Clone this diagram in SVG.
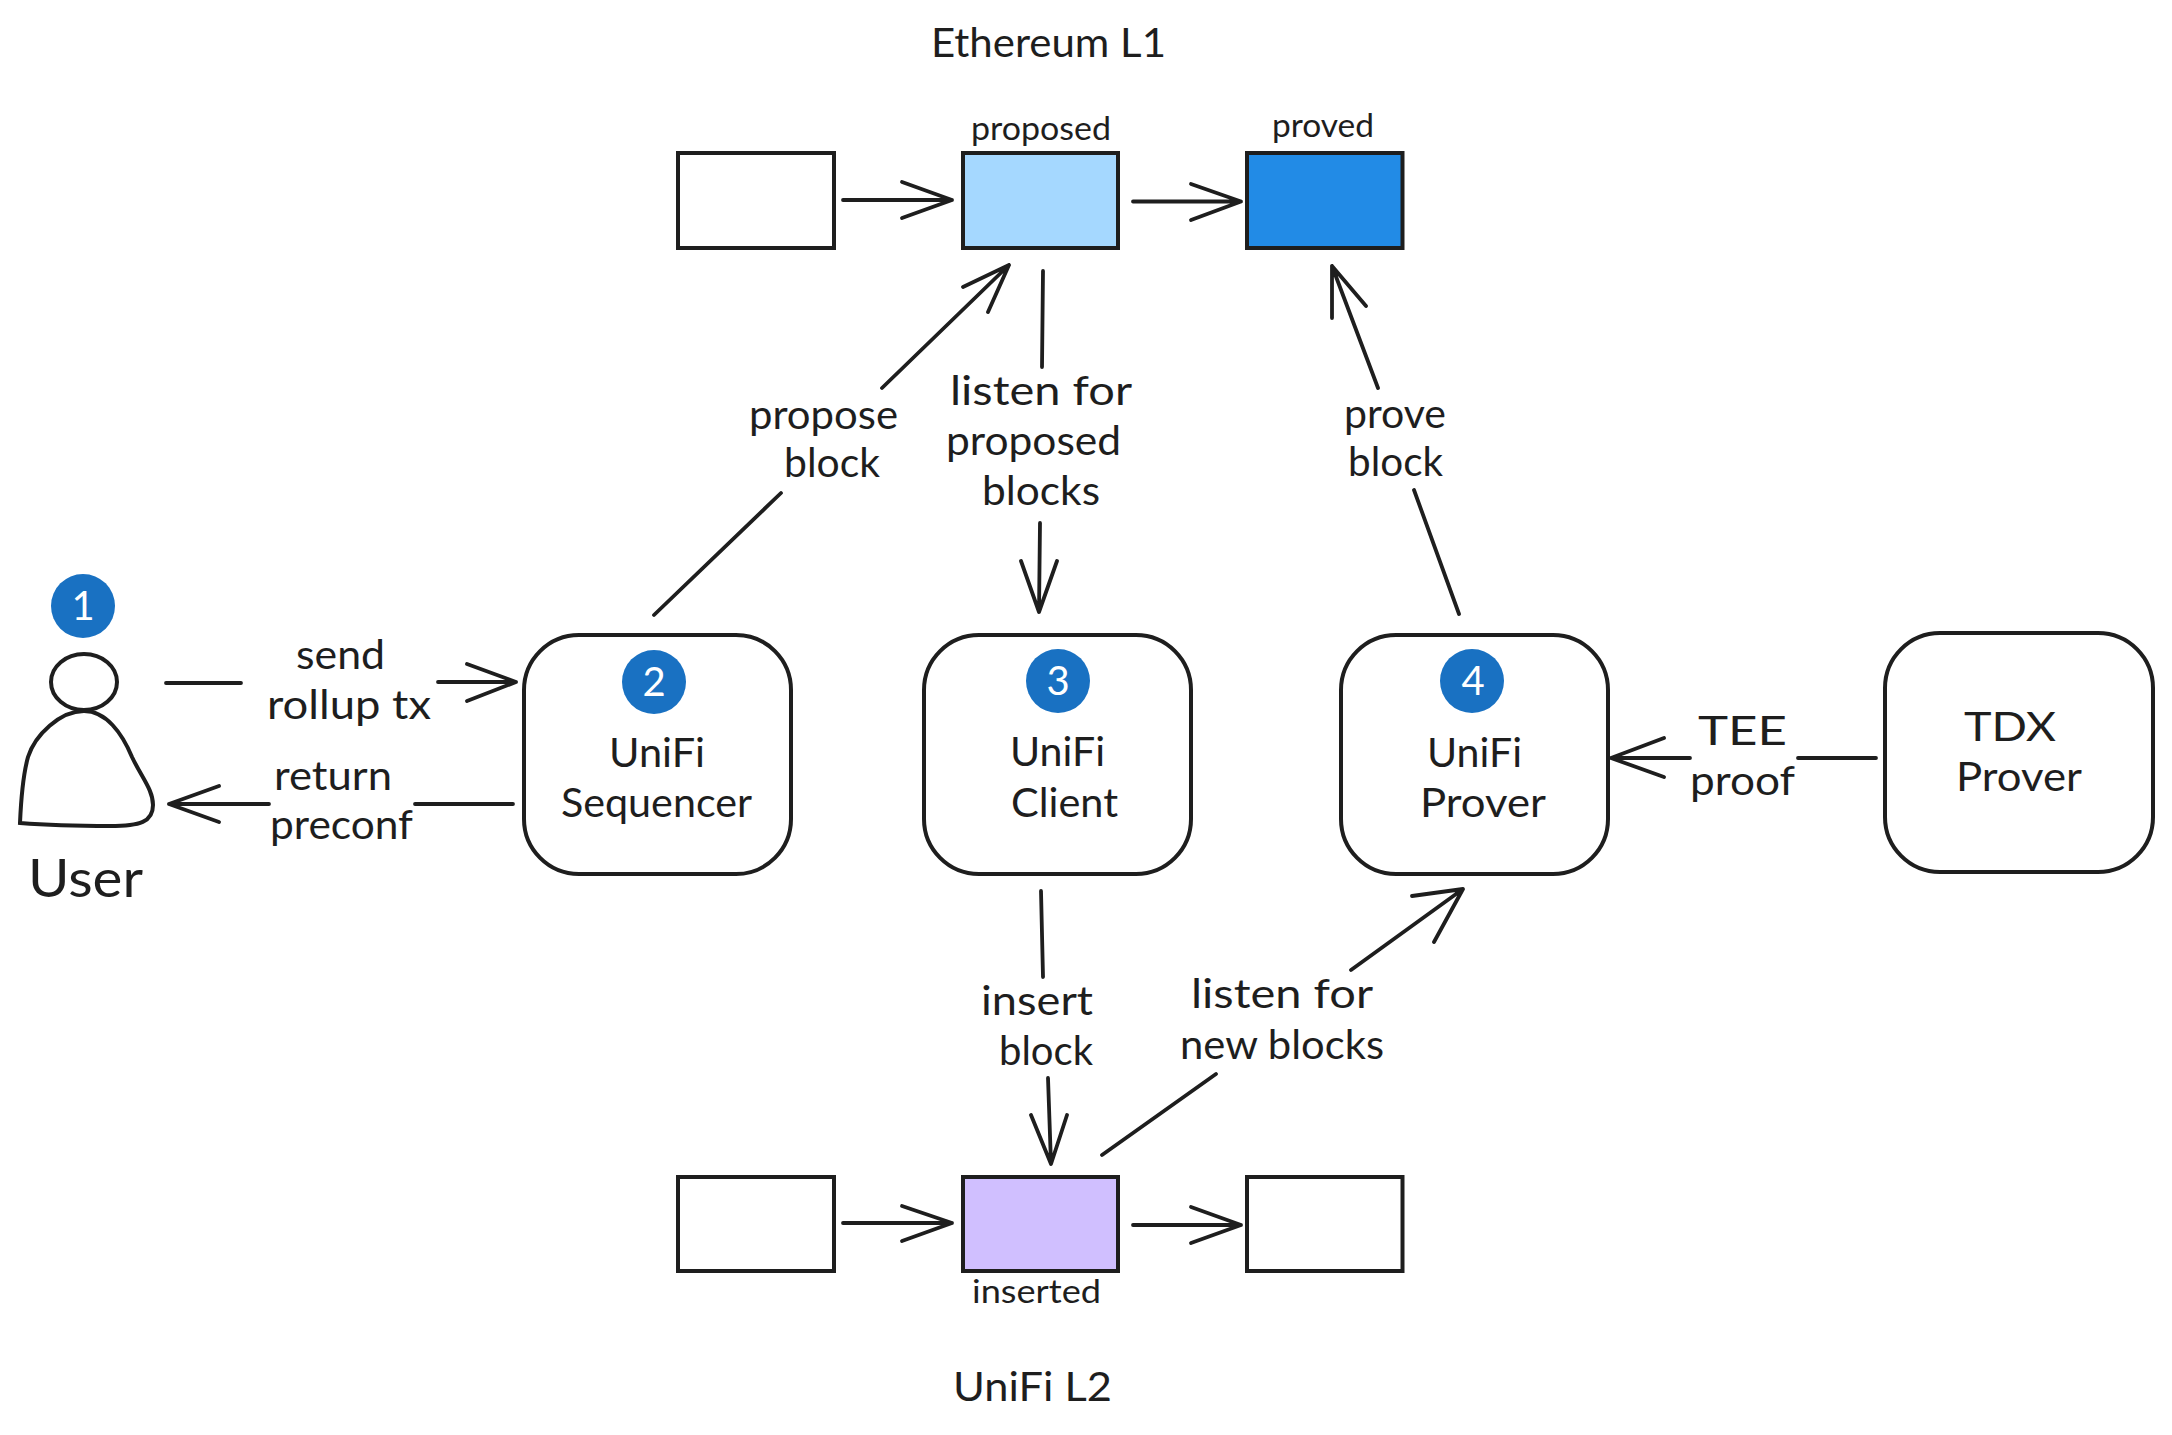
<svg xmlns="http://www.w3.org/2000/svg" width="2172" height="1435" viewBox="0 0 2172 1435">
<style>
text{font-family:"Lato","Noto Sans",sans-serif;fill:#1e1e1e;font-size:40px;text-anchor:start}
.sm{font-size:33px}
.d{font-size:40px;fill:#fff;text-anchor:middle}
.b{stroke:#1e1e1e;stroke-width:4;fill:#fff}
.r{stroke:#1e1e1e;stroke-width:4;fill:#fff}
.c{stroke:#1e1e1e;stroke-width:3.800;fill:none;stroke-linecap:round;stroke-linejoin:round}
.badge{fill:#1971c2}
</style>
<rect width="2172" height="1435" fill="#fff"/>
<g id="connectors" class="c">
<path d="M166 683H241M438 682L516 682M467 664L516 682L467 701"/>
<path d="M513 804H415M269 804H169M219 786L169 804L219 822"/>
<path d="M843 200H952M902 182L952 200L902 218"/>
<path d="M1133 201.500H1241M1191 184L1241 201.500L1191 220"/>
<path d="M843 1223H952M902 1206L952 1223L902 1241"/>
<path d="M1133 1225H1241M1191 1207L1241 1225L1191 1243"/>
<path d="M654 615L781 493M882 388L1009 265M963 287L1009 265L988 312"/>
<path d="M1043 271L1042 367M1040 523L1039 612M1021 561L1039 612L1057 561"/>
<path d="M1459 614L1414 490M1378 388L1332 266M1332 318L1332 266L1366 306"/>
<path d="M1041 891L1043 977M1048 1078L1051 1164M1031 1115L1051 1164L1067 1115"/>
<path d="M1102 1155L1216 1074M1351 970L1463 889M1412 896L1463 889L1434 942"/>
<path d="M1876 758H1798M1690 758H1611M1664 738L1611 758L1664 777"/>
</g>
<g id="block-l1-1"><rect class="b" x="678" y="153" width="156" height="95"/></g>
<g id="block-l1-2"><rect class="b" x="963" y="153" width="155" height="95" style="fill:#a5d8ff"/><text class="sm" x="971" y="140" textLength="140" lengthAdjust="spacingAndGlyphs">proposed</text></g>
<g id="block-l1-3"><rect class="b" x="1247" y="153" width="155.500" height="95" style="fill:#228be6"/><text class="sm" x="1272" y="137" textLength="102" lengthAdjust="spacingAndGlyphs">proved</text></g>
<g id="block-l2-1"><rect class="b" x="678" y="1177" width="156" height="94"/></g>
<g id="block-l2-2"><rect class="b" x="963" y="1177" width="155" height="94" style="fill:#d0bfff"/><text class="sm" x="972" y="1303" textLength="129" lengthAdjust="spacingAndGlyphs">inserted</text></g>
<g id="block-l2-3"><rect class="b" x="1247" y="1177" width="155.500" height="94"/></g>
<g id="title-l1"><text x="931" y="57" textLength="235" lengthAdjust="spacingAndGlyphs">Ethereum L1</text></g>
<g id="title-l2"><text x="953" y="1401" textLength="159" lengthAdjust="spacingAndGlyphs">UniFi L2</text></g>
<g id="user">
<ellipse class="r" cx="84" cy="682" rx="33" ry="28"/>
<path class="r" d="M20 823C21 800 23 775 28 757C35 735 60 711 84 711C106 711 122 733 132 757C142 778 153 790 153 805C153 822 140 826 110 826C80 826 45 825 20 823Z"/>
<circle class="badge" cx="83" cy="606" r="32"/><text class="d" x="83" y="620">1</text>
<text x="28" y="897" style="font-size:52px" textLength="115" lengthAdjust="spacingAndGlyphs">User</text>
</g>
<g id="sequencer"><rect class="r" x="524" y="635" width="267" height="239" rx="55"/>
<circle class="badge" cx="654" cy="682" r="32"/><text class="d" x="654" y="696">2</text>
<text x="609" y="767" textLength="96" lengthAdjust="spacingAndGlyphs">UniFi</text><text x="561" y="817" textLength="191" lengthAdjust="spacingAndGlyphs">Sequencer</text></g>
<g id="client"><rect class="r" x="924" y="635" width="267" height="239" rx="55"/>
<circle class="badge" cx="1058" cy="681" r="32"/><text class="d" x="1058" y="695">3</text>
<text x="1010" y="766" textLength="95" lengthAdjust="spacingAndGlyphs">UniFi</text><text x="1011" y="817" textLength="107" lengthAdjust="spacingAndGlyphs">Client</text></g>
<g id="prover"><rect class="r" x="1341" y="635" width="267" height="239" rx="55"/>
<circle class="badge" cx="1472" cy="681" r="32"/><text class="d" x="1473" y="695">4</text>
<text x="1427" y="767" textLength="95" lengthAdjust="spacingAndGlyphs">UniFi</text><text x="1420" y="817" textLength="126" lengthAdjust="spacingAndGlyphs">Prover</text></g>
<g id="tdx"><rect class="r" x="1885" y="633" width="268" height="239" rx="55"/>
<text x="1964" y="741" textLength="92" lengthAdjust="spacingAndGlyphs">TDX</text><text x="1956" y="791" textLength="126" lengthAdjust="spacingAndGlyphs">Prover</text></g>
<g id="labels">
<text x="749" y="429" textLength="149" lengthAdjust="spacingAndGlyphs">propose</text><text x="784" y="477" textLength="96" lengthAdjust="spacingAndGlyphs">block</text>
<text x="950" y="405" textLength="182" lengthAdjust="spacingAndGlyphs">listen for</text><text x="946" y="455" textLength="175" lengthAdjust="spacingAndGlyphs">proposed</text><text x="982" y="505" textLength="118" lengthAdjust="spacingAndGlyphs">blocks</text>
<text x="1344" y="428" textLength="102" lengthAdjust="spacingAndGlyphs">prove</text><text x="1348" y="476" textLength="95" lengthAdjust="spacingAndGlyphs">block</text>
<text x="296" y="669" textLength="89" lengthAdjust="spacingAndGlyphs">send</text><text x="267" y="719" textLength="164" lengthAdjust="spacingAndGlyphs">rollup tx</text>
<text x="274" y="790" textLength="118" lengthAdjust="spacingAndGlyphs">return</text><text x="270" y="839" textLength="143" lengthAdjust="spacingAndGlyphs">preconf</text>
<text x="1698" y="745" textLength="89" lengthAdjust="spacingAndGlyphs">TEE</text><text x="1690" y="795" textLength="105" lengthAdjust="spacingAndGlyphs">proof</text>
<text x="981" y="1015" textLength="112" lengthAdjust="spacingAndGlyphs">insert</text><text x="999" y="1065" textLength="94" lengthAdjust="spacingAndGlyphs">block</text>
<text x="1191" y="1008" textLength="182" lengthAdjust="spacingAndGlyphs">listen for</text><text x="1180" y="1059" textLength="204" lengthAdjust="spacingAndGlyphs">new blocks</text>
</g>
</svg>
